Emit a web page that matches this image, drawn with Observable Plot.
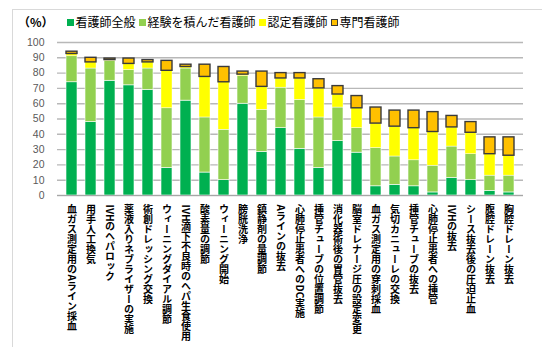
<!DOCTYPE html>
<html>
<head>
<meta charset="utf-8">
<script src="https://cdn.jsdelivr.net/npm/d3@7"></script>
<script src="https://cdn.jsdelivr.net/npm/@observablehq/plot@0.6"></script>
<style>
  html, body { margin: 0; padding: 0; background: #fff; }
  #wrap { position: relative; width: 542px; height: 347px; overflow: hidden; background: #fff; font-family: "Noto Sans CJK JP", "Noto Sans", sans-serif; }
  #frame { position: absolute; left: 12px; top: 9px; width: 540px; height: 345px; border: 1px solid #d9d9d9; box-sizing: border-box; }
  #legend { position: absolute; left: 18px; top: 14px; display: flex; align-items: center; font-size: 12px; line-height: 16px; color: #000; white-space: nowrap; }
  #legend .unit { font-weight: bold; margin-right: 13px; }
  #legend .sw { display: inline-block; width: 7px; height: 7px; margin-right: 2px; box-sizing: border-box; }
  #legend .item { display: flex; align-items: center; margin-right: 3px; }
  #chart { position: absolute; left: 0; top: 30px; }
  .xlab text { writing-mode: vertical-rl; }
</style>
</head>
<body>
<div id="wrap">
  <div id="frame"></div>
  <div id="legend"></div>
  <div id="chart"></div>
</div>
<script>
const categories = [
  "血ガス測定用のAライン採血",
  "用手人工換気",
  "IVHのヘパロック",
  "薬液入りネブライザーの実施",
  "術創ドレッシング交換",
  "ウィーニングダイアル調節",
  "IVH滴下不良時のヘパ生食使用",
  "酸素量の調節",
  "ウィーニング開始",
  "膀胱洗浄",
  "鎮静剤の量調節",
  "Aラインの抜去",
  "心肺停止患者へのDC実施",
  "挿管チューブの位置調節",
  "消化器術後の胃管抜去",
  "脳室ドレナージ圧の設定変更",
  "血ガス測定用の穿刺採血",
  "気切カニューレの交換",
  "挿管チューブの抜去",
  "心肺停止患者への挿管",
  "IVHの抜去",
  "シース抜去後の圧迫止血",
  "腹腔ドレーン抜去",
  "胸腔ドレーン抜去"
];
const seriesNames = ["看護師全般", "経験を積んだ看護師", "認定看護師", "専門看護師"];
const general      = [74, 48, 75, 72, 69, 18, 62, 15, 10, 60, 28.5, 44, 30.5, 18, 35.5, 28, 6, 7, 6, 2, 11.5, 10, 3, 2];
const experienced  = [17, 35, 13, 10, 14, 39, 21, 36, 33, 18, 27.5, 26.5, 32, 33, 22, 16, 25, 18.5, 17, 17.5, 20.5, 17, 10, 11];
const certified    = [1.5, 4, 0.5, 4, 4, 24.5, 1, 26.5, 31, 1, 15, 6, 14, 19, 8.5, 13, 16, 19.5, 21, 22, 12.5, 14, 14, 13];
const specialist   = [1.5, 3, 1, 3.5, 1.5, 6.5, 1.5, 8, 10, 2, 10, 3.5, 3.5, 6, 5.5, 8, 10.5, 10.5, 11.5, 13, 7.5, 7, 11, 12];
const yTicks = [0, 10, 20, 30, 40, 50, 60, 70, 80, 90, 100];

const seriesValues = [general, experienced, certified, specialist];
const fills   = ["#00B050", "#92D050", "#FFFF00", "#FFC000"];
const strokes = ["#ffffff", "#ffffff", "#ffffff", "#3a3a3a"];
const strokeWs = [0.6, 0.6, 0.4, 1.4];

const rows = [];
categories.forEach((c, i) => {
  seriesNames.forEach((s, j) => {
    rows.push({cat: c, series: s, order: j, v: seriesValues[j][i]});
  });
});

// legend
const legend = document.getElementById("legend");
const unit = document.createElement("span");
unit.className = "unit";
unit.textContent = "（%）";
legend.appendChild(unit);
seriesNames.forEach((s, j) => {
  const item = document.createElement("span");
  item.className = "item";
  const sw = document.createElement("span");
  sw.className = "sw";
  sw.style.background = fills[j];
  if (j === 3) sw.style.border = "1px solid #3a3a3a";
  const t = document.createElement("span");
  t.textContent = s;
  item.appendChild(sw);
  item.appendChild(t);
  legend.appendChild(item);
});

const chart = Plot.plot({
  width: 542,
  height: 317,
  marginTop: 12,
  marginBottom: 152,
  marginLeft: 57,
  marginRight: 19,
  style: {background: "transparent", fontFamily: "'Liberation Sans', Arial, sans-serif"},
  x: {domain: categories, paddingInner: 0.43, paddingOuter: 0.2, axis: null},
  y: {domain: [0, 100], axis: null},
  color: {type: "identity"},
  marks: [
    Plot.gridY(yTicks, {stroke: "#b8b8b8", strokeOpacity: 1, strokeWidth: 1.4}),
    Plot.axisY(yTicks, {tickSize: 0, tickPadding: 13, fontSize: 10.5, fill: "#595959", label: null}),
    Plot.barY(rows, Plot.stackY({
      x: "cat",
      y: "v",
      order: "order",
      fill: d => fills[d.order],
      stroke: d => strokes[d.order],
      strokeWidth: d => strokeWs[d.order]
    })),
    Plot.ruleY([0], {stroke: "#a6a6a6", strokeWidth: 1}),
    Plot.text(categories, {
      x: d => d,
      text: d => d,
      frameAnchor: "bottom",
      textAnchor: "start",
      lineAnchor: "top",
      dy: 2,
      fontSize: 10,
      fontWeight: "bold",
      fill: "#000",
      fontFamily: "'Noto Sans CJK JP', sans-serif",
      className: "xlab"
    })
  ]
});
document.getElementById("chart").appendChild(chart);
</script>
</body>
</html>
